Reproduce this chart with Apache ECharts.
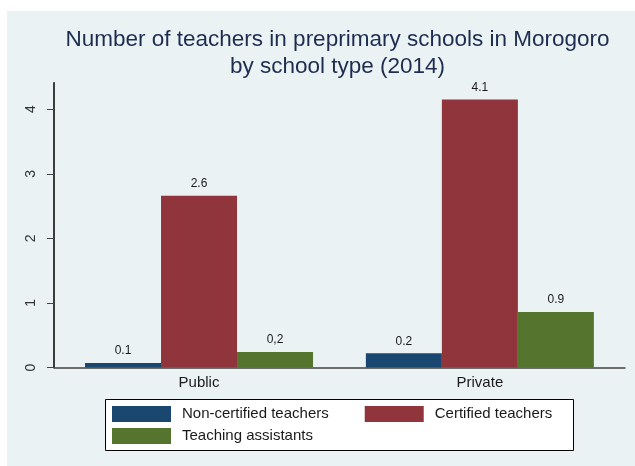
<!DOCTYPE html>
<html>
<head>
<meta charset="utf-8">
<script src="https://cdn.jsdelivr.net/npm/echarts@6/dist/echarts.min.js"></script>
<style>
  html, body { margin: 0; padding: 0; background: #fff; }
  #chart { width: 635px; height: 466px; }
</style>
</head>
<body>
<div id="chart"></div>
<script>
// values
const categories = ['Public', 'Private']
const nonCertified = [0.07, 0.22]
const certified = [2.66, 4.15]
const assistants = [0.24, 0.86]
// printed labels (as in the source, including the "0,2")
const nonCertifiedLabels = ['0.1', '0.2']
const certifiedLabels = ['2.6', '4.1']
const assistantsLabels = ['0,2', '0.9']
const yTicks = [0, 1, 2, 3, 4]
const yMax = 4.41

const font = '"Liberation Sans", Arial, sans-serif'
const panelColor = '#eaf2f3'

const barSeries = (name, data, labels, color) => ({
    name: name,
    type: 'bar',
    xAxisIndex: 1,
    yAxisIndex: 1,
    data: data,
    barWidth: 76,
    barGap: '0%',
    itemStyle: { color: color },
    label: {
        show: true,
        position: 'top',
        distance: 6,
        fontFamily: font,
        fontSize: 12,
        color: '#1a1a1a',
        formatter: p => labels[p.dataIndex]
    }
})

const chart = echarts.init(document.getElementById('chart'))
const option = {
    animation: false,
    backgroundColor: '#fff',
    graphic: [
        { type: 'rect', z: 0, shape: { x: 7, y: 11, width: 628, height: 455 }, style: { fill: panelColor } },
        { type: 'rect', z: 1, shape: { x: 105.5, y: 399.5, width: 468, height: 51 },
          style: { fill: '#fff', stroke: '#000', lineWidth: 1 } }
    ],
    title: {
        text: 'Number of teachers in preprimary schools in Morogoro\nby school type (2014)',
        left: 337.5,
        top: 26,
        padding: 0,
        textAlign: 'center',
        textStyle: {
            fontFamily: font,
            fontSize: 22.5,
            fontWeight: 'normal',
            lineHeight: 27,
            color: '#1e2d4f'
        }
    },
    legend: [
        {
            data: ['Non-certified teachers', 'Certified teachers'],
            left: 112,
            top: 406,
            padding: 0,
            itemGap: 36,
            itemWidth: 59,
            itemHeight: 16,
            icon: 'rect',
            selectedMode: false,
            textStyle: { fontFamily: font, fontSize: 15, color: '#1a1a1a', lineHeight: 16, padding: [0, 0, 0, 6] }
        },
        {
            data: ['Teaching assistants'],
            left: 112,
            top: 428,
            padding: 0,
            itemWidth: 59,
            itemHeight: 16,
            icon: 'rect',
            selectedMode: false,
            textStyle: { fontFamily: font, fontSize: 15, color: '#1a1a1a', lineHeight: 16, padding: [0, 0, 0, 6] }
        }
    ],
    grid: [
        { left: 54, right: 10, top: 82.7, bottom: 98.5, show: true, backgroundColor: '#fff', borderWidth: 0 },
        { left: 58.6, right: 14.7, top: 82.7, bottom: 98.5 }
    ],
    xAxis: [
        {
            gridIndex: 0,
            type: 'category',
            data: [''],
            axisLine: { lineStyle: { color: '#444', width: 1.5 } },
            axisTick: { show: false },
            axisLabel: { show: false }
        },
        {
            gridIndex: 1,
            type: 'category',
            data: categories,
            axisLine: { show: false },
            axisTick: { show: false },
            axisLabel: { fontFamily: font, fontSize: 15, color: '#1a1a1a', margin: 8 }
        }
    ],
    yAxis: [
        {
            gridIndex: 0,
            type: 'value',
            min: 0,
            max: yMax,
            interval: 1,
            axisLine: { show: true, lineStyle: { color: '#000', width: 1.5 } },
            axisTick: { show: true, length: 7, customValues: yTicks, lineStyle: { color: '#444' } },
            axisLabel: {
                customValues: yTicks,
                rotate: 90,
                margin: 16,
                fontFamily: font,
                fontSize: 14,
                color: '#333'
            },
            splitLine: { show: true, lineStyle: { color: panelColor, width: 1 } }
        },
        { gridIndex: 1, type: 'value', min: 0, max: yMax, show: false }
    ],
    series: [
        barSeries('Non-certified teachers', nonCertified, nonCertifiedLabels, '#1a476f'),
        barSeries('Certified teachers', certified, certifiedLabels, '#90353b'),
        barSeries('Teaching assistants', assistants, assistantsLabels, '#55752f')
    ]
}
chart.setOption(option)
</script>
</body>
</html>
